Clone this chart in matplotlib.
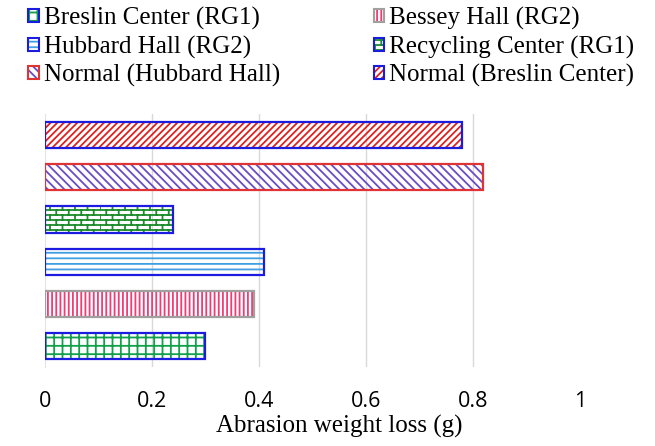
import numpy as np
import matplotlib
matplotlib.use("Agg")
import matplotlib.pyplot as plt
import matplotlib.hatch as mhatch
from matplotlib.path import Path
from matplotlib.patches import Patch
from matplotlib.legend_handler import HandlerTuple

# data (bottom to top, as in the chart)
labels = ["Breslin Center (RG1)", "Bessey Hall (RG2)", "Hubbard Hall (RG2)",
          "Recycling Center (RG1)", "Normal (Hubbard Hall)", "Normal (Breslin Center)"]
loss = [0.30, 0.39, 0.41, 0.24, 0.82, 0.78]

# styles
hatch_colors = ["#13a04a", "#f23a74", "#3f9fe0", "#1d8a2c", "#6a4cc4", "#e0201e"]
edge_colors = ["#1c1ce0", "#a0a0a0", "#1c1ce0", "#1c1ce0", "#e03434", "#1c1ce0"]
hatches = ["++", "||||", "---", "**", "\\\\\\\\", "/////"]


# brick pattern, hooked onto the '*' hatch character
class BrickHatch(mhatch.HatchPatternBase):
    def __init__(self, hatch, density):
        self.n = hatch.count("*") * 10
        self.m = int(self.n * 0.4)
        self.num_vertices = 2 * self.n + 2 * self.n * self.m

    def set_vertices_and_codes(self, vertices, codes):
        k = 0
        for i in range(self.n):
            y0, y1 = i / self.n, (i + 1) / self.n
            vertices[k] = (0, y0)
            vertices[k + 1] = (1, y0)
            codes[k], codes[k + 1] = Path.MOVETO, Path.LINETO
            k += 2
            off = 0 if i % 2 == 0 else 0.5 / self.m
            for j in range(self.m):
                x = j / self.m + off
                vertices[k] = (x, y0)
                vertices[k + 1] = (x, y1)
                codes[k], codes[k + 1] = Path.MOVETO, Path.LINETO
                k += 2


mhatch._hatch_types = [t for t in mhatch._hatch_types if t is not mhatch.Stars] + [BrickHatch]

plt.rcParams["hatch.linewidth"] = 1.3

fig = plt.figure(figsize=(6.55, 4.46), dpi=100)
ax = fig.add_axes([0.0687, 0.177, 0.898, 0.567])

y = np.arange(len(labels))
handles = []
for i in range(len(labels)):
    ax.barh(y[i], loss[i], height=0.62, color="none", edgecolor=hatch_colors[i],
            hatch=hatches[i], linewidth=0, zorder=3)
    ax.barh(y[i], loss[i], height=0.62, fill=False, edgecolor=edge_colors[i],
            linewidth=1.6, zorder=4)
    h1 = Patch(facecolor="white", edgecolor=hatch_colors[i], hatch=hatches[i], linewidth=0)
    h2 = Patch(fill=False, edgecolor=edge_colors[i], linewidth=1.5)
    handles.append((h1, h2))

ax.set_xlim(0, 1.1)
ax.set_ylim(-0.5, 5.5)
ax.set_xticks([0, 0.2, 0.4, 0.6, 0.8, 1])
ax.set_xticklabels(["0", "0.2", "0.4", "0.6", "0.8", "1"], fontfamily="Open Sans", fontsize=15.5)
ax.set_yticks([])
ax.tick_params(axis="x", length=0, pad=17)
for gx in [0.2, 0.4, 0.6, 0.8]:
    ax.axvline(gx, color="#d9d9d9", linewidth=1, zorder=1)
for s in ["top", "right", "bottom"]:
    ax.spines[s].set_visible(False)
ax.spines["left"].set_color("#e4e4e4")

ax.set_xlabel("Abrasion weight loss (g)", fontfamily="Liberation Serif", fontsize=18, labelpad=2)

# legend goes column first, so reorder to get the row layout of the original
order = [0, 2, 4, 1, 3, 5]
fig.legend([handles[k] for k in order], [labels[k] for k in order],
           handler_map={tuple: HandlerTuple(ndivide=1, pad=0)},
           ncol=2, loc="upper left", bbox_to_anchor=(0.02, 1.018),
           frameon=False, prop={"family": "Liberation Serif", "size": 18},
           handlelength=0.42, handleheight=0.42, handletextpad=0.2,
           columnspacing=3.75, labelspacing=0.22, borderaxespad=0.2)

fig.savefig("out.png", dpi=100)
